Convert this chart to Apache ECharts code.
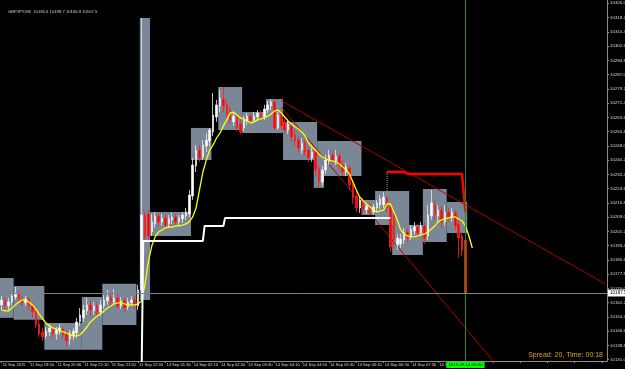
<!DOCTYPE html>
<html><head><meta charset="utf-8">
<script src="https://cdn.jsdelivr.net/npm/echarts@6/dist/echarts.min.js"></script>
<style>html,body{margin:0;padding:0;background:#000}#c{width:625px;height:369px}</style>
</head><body><div id="c"></div>
<script>
const headerText = 'GBPJPY,M5  10196.5 10198.7 10166.9 10167.5';
const spreadText = 'Spread: 20, Time: 00:18';
const xTickLabels = ['11 Sep 2015','11 Sep 19:50','11 Sep 20:30','11 Sep 21:10','11 Sep 21:50','11 Sep 22:30','14 Sep 01:30','14 Sep 02:10','14 Sep 02:50','14 Sep 03:30','14 Sep 04:10','14 Sep 04:50','14 Sep 05:30','14 Sep 06:10','14 Sep 06:50','14 Sep 07:30','14 Sep 08:10','','','','','',''];
const yTicks = [10326.0,10318.2,10310.4,10302.6,10294.8,10287.0,10279.2,10271.4,10263.6,10255.8,10248.0,10240.2,10232.4,10224.6,10216.8,10209.0,10201.2,10193.4,10185.6,10177.8,10170.0,10162.2,10154.4,10146.6,10138.8,10131.0];
const yMin = 10130.3, yMax = 10327.8;
const slotCount = 178;
const lastPrice = 10167.5;
const nowIndex = 136;
const nowLabel = '2015.09.14 09:00';
// [open, close, low, high]
const candles = [
[10161.0,10163.7,10158.2,10165.9],[10163.7,10160.4,10158.8,10165.3],[10160.4,10162.6,10158.2,10164.8],[10162.6,10165.9,10161.0,10167.5],
[10165.3,10167.5,10163.7,10170.8],[10167.0,10164.2,10162.6,10168.6],[10164.2,10162.1,10160.4,10165.9],[10162.1,10164.2,10160.4,10165.9],
[10164.2,10160.4,10158.2,10165.3],[10160.4,10157.1,10153.9,10162.1],[10157.1,10150.0,10148.4,10158.2],[10150.6,10145.1,10143.5,10152.8],
[10146.2,10143.5,10141.3,10148.4],[10144.0,10146.7,10142.4,10148.9],[10146.2,10148.4,10144.0,10150.6],[10147.8,10145.1,10142.9,10149.5],
[10145.1,10147.3,10141.8,10148.9],[10146.7,10148.4,10144.6,10150.6],[10147.8,10144.6,10142.9,10148.9],[10145.6,10141.3,10138.0,10147.3],
[10142.4,10145.6,10139.1,10147.3],[10144.0,10146.7,10141.8,10148.4],[10145.6,10151.7,10142.9,10153.9],[10151.7,10155.5,10149.5,10159.3],
[10153.9,10158.2,10151.7,10161.0],[10157.7,10161.0,10155.5,10164.8],[10161.0,10158.2,10154.9,10163.7],[10157.7,10160.4,10155.5,10162.6],
[10160.4,10156.6,10154.4,10162.1],[10157.1,10161.0,10154.9,10163.7],[10160.4,10163.7,10158.8,10166.4],[10163.2,10165.3,10161.0,10169.2],
[10165.3,10162.6,10160.4,10167.5],[10162.6,10164.8,10161.0,10169.7],[10164.8,10160.4,10158.8,10167.0],[10160.4,10163.2,10158.8,10165.3],
[10163.2,10159.3,10157.1,10164.8],[10159.9,10162.6,10158.2,10164.8],[10162.1,10163.7,10160.4,10165.9],[10163.7,10161.0,10158.8,10165.9],
[10160.4,10169.2,10158.2,10171.9],[10169.2,10210.2,10163.7,10317.9],[10210.2,10198.2,10196.5,10211.8],[10210.7,10198.7,10196.5,10212.9],
[10200.9,10206.4,10198.7,10210.7],[10205.3,10209.6,10203.1,10211.8],[10209.6,10206.4,10204.2,10211.3],[10206.4,10208.6,10204.2,10210.7],
[10208.6,10204.7,10202.5,10210.2],[10205.3,10208.0,10203.1,10210.2],[10207.5,10209.1,10205.3,10211.3],[10209.1,10206.4,10204.2,10210.7],
[10206.4,10208.6,10204.2,10210.2],[10208.0,10210.2,10205.8,10211.8],[10209.6,10211.8,10207.5,10214.0],[10210.7,10221.1,10209.1,10223.9],
[10220.6,10237.5,10218.4,10241.4],[10237.0,10245.8,10233.7,10248.5],[10245.8,10241.4,10239.2,10248.5],[10241.9,10248.5,10240.3,10251.2],
[10247.9,10251.2,10244.7,10255.0],[10250.7,10256.7,10247.9,10257.8],[10255.6,10264.9,10253.4,10276.9],[10263.8,10270.4,10261.1,10273.1],
[10269.8,10274.2,10266.5,10278.6],[10273.6,10269.8,10266.5,10280.2],[10270.9,10264.9,10263.3,10273.1],[10267.6,10262.2,10260.0,10269.8],
[10261.1,10264.3,10258.9,10266.5],[10263.8,10257.8,10256.1,10265.4],[10260.0,10255.6,10254.5,10262.2],[10257.8,10262.2,10256.1,10264.3],
[10261.6,10264.3,10259.4,10266.0],[10264.3,10262.2,10260.5,10266.0],[10262.2,10264.3,10260.5,10266.5],[10263.8,10266.0,10261.6,10267.6],
[10266.0,10263.8,10262.2,10267.6],[10263.8,10268.2,10262.2,10270.4],[10267.6,10270.4,10266.0,10272.6],[10269.8,10272.0,10267.6,10273.6],
[10272.0,10257.8,10256.7,10273.1],[10257.8,10264.9,10256.7,10266.5],[10266.0,10258.9,10256.7,10267.6],[10261.1,10256.7,10254.5,10262.7],
[10256.7,10260.0,10254.5,10262.2],[10258.9,10252.9,10250.1,10261.1],[10254.0,10250.7,10247.9,10256.7],[10251.2,10246.8,10244.7,10253.4],
[10245.8,10249.6,10243.6,10252.3],[10249.6,10244.7,10242.5,10251.2],[10245.8,10241.4,10239.2,10247.4],[10241.4,10244.7,10239.2,10246.8],
[10244.7,10234.8,10231.5,10245.8],[10235.9,10228.2,10225.0,10237.5],[10228.2,10234.8,10226.1,10237.0],[10234.8,10240.3,10232.6,10243.0],
[10239.7,10243.0,10237.5,10245.8],[10243.0,10240.3,10238.1,10245.2],[10239.7,10242.5,10237.5,10245.8],[10242.5,10237.0,10234.8,10244.1],
[10237.5,10233.7,10231.5,10240.3],[10233.7,10236.5,10231.5,10238.6],[10235.9,10226.6,10223.9,10237.5],[10227.2,10219.5,10216.2,10229.3],
[10220.6,10214.0,10211.8,10222.8],[10214.0,10218.4,10211.3,10220.6],[10217.9,10212.9,10210.7,10219.5],[10212.9,10215.1,10210.7,10216.8],
[10215.1,10211.8,10210.2,10216.8],[10211.8,10214.6,10210.2,10216.2],[10214.0,10216.8,10211.8,10218.4],[10215.7,10219.0,10213.5,10221.1],
[10215.7,10220.0,10214.0,10222.8],[10219.5,10214.0,10211.8,10220.6],[10214.6,10192.7,10190.0,10216.2],[10210.2,10196.5,10192.1,10211.8],
[10193.8,10197.6,10191.1,10199.8],[10194.3,10197.1,10192.1,10199.8],[10196.5,10200.9,10194.3,10203.1],[10200.9,10197.6,10195.4,10203.1],
[10198.2,10202.5,10196.5,10204.7],[10201.4,10203.6,10199.3,10206.4],[10203.6,10200.3,10198.7,10205.3],[10200.3,10204.2,10198.7,10206.4],
[10204.2,10197.6,10194.3,10206.4],[10198.7,10210.2,10196.5,10215.7],[10209.6,10216.8,10207.5,10223.9],[10215.7,10210.2,10207.5,10218.4],
[10209.6,10212.9,10206.4,10215.7],[10212.9,10206.4,10203.1,10215.1],[10206.4,10211.8,10204.2,10215.7],[10211.8,10208.6,10206.4,10214.0],
[10208.6,10211.8,10206.4,10214.0],[10211.3,10204.2,10202.0,10212.9],[10205.3,10197.6,10186.7,10207.5],[10198.7,10191.1,10187.8,10200.9],
[10196.5,10167.5,10167.0,10198.7]
];
const maValues = [
10158.2,10157.7,10157.7,10159.3,10161.0,10162.6,10163.7,10163.7,10162.6,10161.0,
10158.8,10156.0,10153.3,10151.1,10149.5,10148.4,10147.8,10146.7,10146.2,10145.6,
10144.6,10144.0,10144.0,10144.6,10146.7,10148.9,10151.7,10153.3,10154.9,10156.0,
10157.7,10159.3,10160.4,10161.5,10162.1,10162.1,10161.5,10161.0,10161.0,10161.0,
10161.5,10163.2,10171.9,10184.5,10193.2,10198.2,10200.9,10202.0,10203.1,10203.6,
10203.6,10204.2,10204.2,10204.7,10205.3,10206.4,10209.1,10214.0,10223.9,10233.7,
10240.3,10245.8,10248.5,10252.3,10255.0,10258.9,10262.2,10266.0,10266.5,10264.9,
10263.3,10262.7,10261.6,10260.5,10261.1,10262.2,10262.7,10263.3,10264.3,10265.4,
10267.1,10267.6,10266.0,10263.8,10261.6,10260.0,10258.3,10257.2,10255.6,10253.4,
10249.6,10247.4,10245.8,10243.6,10241.9,10240.8,10240.3,10239.7,10239.2,10238.1,
10236.5,10234.8,10232.6,10228.2,10223.9,10220.0,10217.9,10216.2,10214.6,10212.9,
10211.8,10212.4,10212.9,10216.2,10216.2,10211.8,10207.5,10202.0,10199.8,10198.7,
10198.2,10198.2,10198.7,10199.3,10199.8,10200.9,10202.5,10204.2,10206.4,10207.5,
10208.0,10208.6,10209.1,10209.1,10208.0,10206.9,10204.2,10198.7,10192.1
];
// white level line: [index, value]
const whiteLevel = [[41,10120.0],[42,10196.0],[59,10196.0],[60,10204.2],[65,10204.2],[66,10208.6],[114,10208.6]];
const redLevel = [[113,10233.7],[118,10233.7],[119,10232.6],[135,10232.6],[136,10211.8]];
const dottedMark = [[113,10233.7],[113,10221.1]];
const trendA = [[82,10272.7],[177,10172.5]];
const trendB = [[82,10269.2],[146,10126.0]];
// [startIndex, endIndex, high, low]
const boxes = [
[0,3,10175.7,10153.9],[4,12,10171.4,10152.8],[13,23,10151.1,10136.4],[24,29,10165.3,10136.4],[30,39,10172.5,10150.0],
[41,43,10317.9,10163.7],[43,55,10211.8,10198.7],[56,61,10257.8,10240.3],[64,70,10280.2,10256.7],[71,77,10266.5,10255.0],
[78,82,10273.6,10255.0],[83,92,10261.1,10240.3],[92,94,10243.0,10225.0],[93,105,10250.7,10231.5],[106,110,10218.4,10210.2],
[110,119,10223.3,10204.7],[115,123,10204.7,10188.3],[124,130,10224.4,10195.4],[131,136,10217.3,10200.3]
];

const slots = [];
for (let i = 0; i < slotCount; i++) slots.push(String(i));
const F = 'Liberation Sans';
const chart = echarts.init(document.getElementById('c'), null, {renderer:'canvas'});
chart.setOption({
  animation:false,
  backgroundColor:'#000',
  grid:{left:0,right:18,top:0,bottom:8,containLabel:false,outerBoundsMode:'none'},
  xAxis:{type:'category',data:slots,boundaryGap:true,
    axisLine:{lineStyle:{color:'#8c8c8c',width:1}},
    axisTick:{show:true,interval:7,alignWithLabel:true,length:2,lineStyle:{color:'#8c8c8c'}},
    axisLabel:{interval:7,align:'left',margin:2,fontSize:4.1,fontFamily:F,color:'#d8d8d8',
      showMinLabel:true,hideOverlap:false,padding:[0,0,0,1],
      formatter:(v,i)=>xTickLabels[Math.round(i/8)]||''},
    splitLine:{show:false}},
  yAxis:{type:'value',position:'right',min:yMin,max:yMax,scale:true,
    axisLine:{show:true,lineStyle:{color:'#8c8c8c'}},
    axisTick:{show:true,length:2,customValues:yTicks,lineStyle:{color:'#8c8c8c'}},
    axisLabel:{customValues:yTicks,fontSize:4.4,fontFamily:F,color:'#d8d8d8',margin:3,formatter:v=>v.toFixed(1)},
    splitLine:{show:false}},
  graphic:[
    {type:'text',left:8,top:10,style:{text:headerText,fill:'#d0d0d0',font:'4.2px '+F}},
    {type:'text',right:22,top:352,style:{text:spreadText,fill:'#e0a020',font:'7px '+F}}
  ],
  series:[
    {type:'custom',z:1,data:boxes,encode:{x:[0,1],y:[2,3]},
      renderItem:(params,api)=>{
        const s=api.value(0),e=api.value(1),hi=api.value(2),lo=api.value(3);
        const bw=api.size([1,0])[0];
        const p1=api.coord([s,hi]),p2=api.coord([e,lo]);
        return {type:'rect',shape:{x:p1[0]-bw/2,y:p1[1],width:p2[0]-p1[0]+bw,height:p2[1]-p1[1]},style:{fill:'#7a8797'}};
      }},
    {type:'line',z:2,data:trendA,symbol:'none',lineStyle:{color:'#b00000',width:1}},
    {type:'line',z:2,data:trendB,symbol:'none',lineStyle:{color:'#b00000',width:1}},
    {type:'candlestick',z:3,data:candles,barWidth:2,
      itemStyle:{color:'#ffffff',color0:'#ff0000',borderColor:'#e8e8e8',borderColor0:'#ff2020',borderWidth:0.8},
      markLine:{symbol:'none',silent:true,animation:false,
        data:[
          [{coord:[nowIndex,yMin],lineStyle:{color:'#1f8f1f',width:1,type:'solid'},
            label:{show:true,position:'start',distance:1,formatter:nowLabel,backgroundColor:'#00ff00',color:'#000',fontSize:4.4,fontFamily:F,padding:[1,2]}},
           {coord:[nowIndex,yMax]}],
          {yAxis:lastPrice,lineStyle:{color:'#808080',width:1,type:'solid'},
            label:{show:true,position:'end',distance:1,formatter:lastPrice.toFixed(1),backgroundColor:'#ffffff',color:'#000',fontSize:4.6,fontFamily:F,padding:[1,2]}}
        ]}},
    {type:'line',z:4,data:maValues,symbol:'none',lineStyle:{color:'#ffff00',width:1.3}},
    {type:'line',z:4,data:whiteLevel,symbol:'none',step:'middle',lineStyle:{color:'#ffffff',width:2}},
    {type:'line',z:4,data:redLevel,symbol:'none',lineStyle:{color:'#ff0000',width:2.5}},
    {type:'line',z:4,data:dottedMark,symbol:'none',lineStyle:{color:'#a0a0a0',width:1,type:'dotted'}}
  ]
});
</script>
</body></html>
